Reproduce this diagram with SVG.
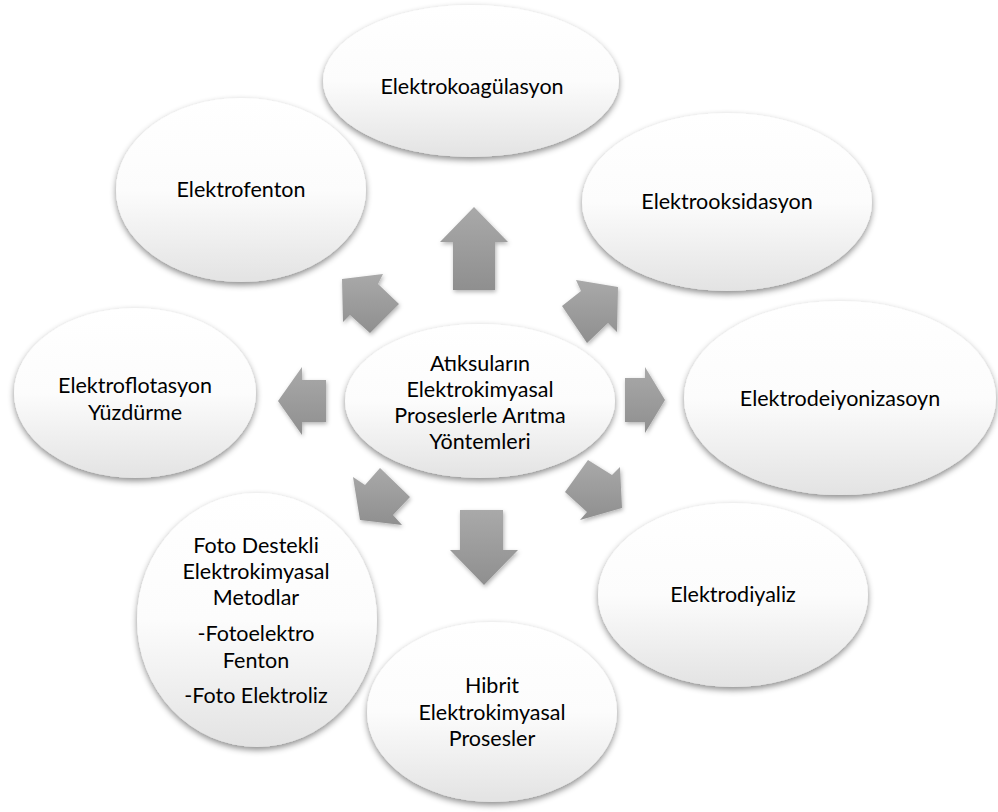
<svg xmlns="http://www.w3.org/2000/svg" width="998" height="812" viewBox="0 0 998 812">
<defs>
<linearGradient id="ellFill" x1="0" y1="0" x2="0" y2="1">
<stop offset="0" stop-color="#ffffff"/>
<stop offset="0.5" stop-color="#fcfcfc"/>
<stop offset="1" stop-color="#e3e3e3"/>
</linearGradient>
<linearGradient id="arrFill" x1="0" y1="0" x2="0" y2="1">
<stop offset="0" stop-color="#a9a9a9"/>
<stop offset="1" stop-color="#8f8f8f"/>
</linearGradient>
<filter id="shadow" x="-20%" y="-20%" width="140%" height="145%">
<feDropShadow dx="0" dy="3" stdDeviation="3" flood-color="#000" flood-opacity="0.45"/>
</filter>
<filter id="ashadow" x="-30%" y="-30%" width="160%" height="160%">
<feDropShadow dx="1" dy="2" stdDeviation="2" flood-color="#000" flood-opacity="0.3"/>
</filter>
</defs>
<style>
.node ellipse { fill: url(#ellFill); stroke: none; filter: url(#shadow); }
.node text { font-family: Lato, "Liberation Sans", sans-serif; font-size: 21.5px; fill: #000; text-anchor: middle; }
.conn polygon { fill: url(#arrFill); stroke: none; filter: url(#ashadow); }
</style>
<rect width="998" height="812" fill="#ffffff"/>

<g id="node-elektrokoagulasyon" class="node">
<ellipse cx="471" cy="81" rx="148" ry="76"/>
<text x="472" y="94">Elektrokoagülasyon</text>
</g>
<g id="node-elektrooksidasyon" class="node">
<ellipse cx="727" cy="202" rx="145" ry="89"/>
<text x="727" y="209">Elektrooksidasyon</text>
</g>
<g id="node-elektrofenton" class="node">
<ellipse cx="241" cy="190" rx="125" ry="92"/>
<text x="241" y="197">Elektrofenton</text>
</g>
<g id="node-elektrodeiyonizasoyn" class="node">
<ellipse cx="840" cy="398" rx="156" ry="97"/>
<text x="840" y="406">Elektrodeiyonizasoyn</text>
</g>
<g id="node-elektroflotasyon" class="node">
<ellipse cx="135" cy="393" rx="121" ry="85"/>
<text x="135" y="393">Elektroflotasyon</text>
<text x="135" y="420">Yüzdürme</text>
</g>
<g id="node-elektrodiyaliz" class="node">
<ellipse cx="733" cy="595" rx="135" ry="92"/>
<text x="733" y="602">Elektrodiyaliz</text>
</g>
<g id="node-hibrit" class="node">
<ellipse cx="492" cy="712" rx="125" ry="90"/>
<text x="492" y="693">Hibrit</text>
<text x="492" y="720">Elektrokimyasal</text>
<text x="492" y="746">Prosesler</text>
</g>
<g id="node-foto" class="node">
<ellipse cx="257" cy="620" rx="120" ry="127"/>
<text x="256" y="553">Foto Destekli</text>
<text x="256" y="579">Elektrokimyasal</text>
<text x="256" y="605">Metodlar</text>
<text x="256" y="641">-Fotoelektro</text>
<text x="256" y="668">Fenton</text>
<text x="256" y="703">-Foto Elektroliz</text>
</g>
<g id="node-center" class="node">
<ellipse cx="480" cy="401" rx="135" ry="77"/>
<text x="480" y="371">Atıksuların</text>
<text x="480" y="397">Elektrokimyasal</text>
<text x="480" y="423">Proseslerle Arıtma</text>
<text x="480" y="449">Yöntemleri</text>
</g>

<g id="connectors" class="conn">
<polygon points="453,290 453,242 440,242 474,207 508,242 495,242 495,290"/>
<polygon points="460,510 503,510 503,550 518,550 484,585 450,550 460,550"/>
<polygon points="625,378 645,378 645,367 665,400 645,433 645,422 625,422"/>
<polygon points="326,380 302,380 302,367 278,401 302,435 302,422 326,422"/>
<polygon points="618,287 576,280 581,291 562,306 587,343 608,323 617,332"/>
<polygon points="342,279 383,274 378,284 399,304 370,333 350,315 343,322"/>
<polygon points="588,460 612,475 620,467 622,508 580,520 587,512 565,492"/>
<polygon points="380,468 410,497 393,515 402,525 360,520 353,477 365,485"/>
</g>
</svg>
